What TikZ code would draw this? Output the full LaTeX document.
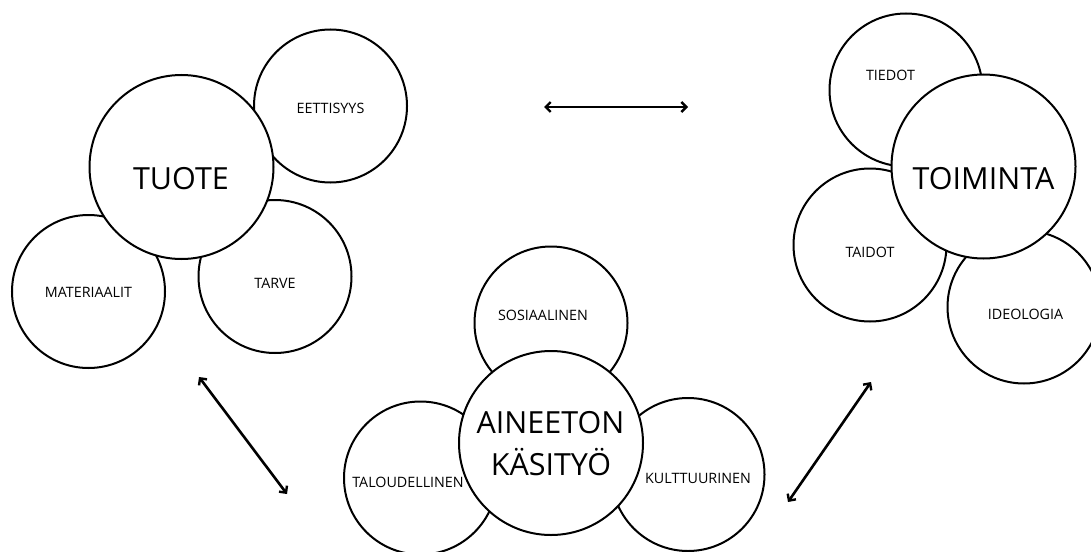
\documentclass[tikz,border=0pt]{standalone}
\usepackage{fontspec}
\setmainfont{Open Sans}
\usetikzlibrary{arrows.meta}
\begin{document}
\begin{tikzpicture}[x=1pt,y=-1pt,
  bubble/.style={circle,draw=black,fill=white,line width=2pt,inner sep=0pt},
  small/.style={bubble,minimum size=153pt},
  big/.style={bubble,minimum size=184pt},
  lbl/.style={anchor=base,inner sep=0pt,font=\fontsize{14.3}{16}\selectfont},
  biglbl/.style={anchor=base,inner sep=0pt,font=\fontsize{30.5}{36}\selectfont},
  link/.style={line width=2.6pt,{Straight Barb[length=5pt,width=10pt,line width=2.4pt]}-{Straight Barb[length=5pt,width=10pt,line width=2.4pt]}}]
\useasboundingbox (0,0) rectangle (1091,551);
% TUOTE group
\node[small] (eett) at (330.5,106) {};
\node[small] (mat) at (88.5,291.5) {};
\node[small] (tarve) at (275,276.5) {};
\node[big] (tuote) at (181.5,167) {};
\node[lbl] (teett) at (330.5,113.3) {EETTISYYS};
\node[lbl] (tmat) at (88.5,297.7) {MATERIAALIT};
\node[lbl] (ttarve) at (275,288.7) {TARVE};
\node[biglbl] (ttuote) at (181,189.3) {TUOTE};
% TOIMINTA group
\node[small] (tied) at (906,90) {};
\node[small] (taid) at (870,245) {};
\node[small] (ideo) at (1024,307) {};
\node[big] (toim) at (983.5,166.5) {};
\node[lbl] (ttied) at (890.5,80) {TIEDOT};
\node[lbl] (ttaid) at (870,257.3) {TAIDOT};
\node[lbl] (tideo) at (1025.5,319.3) {IDEOLOGIA};
\node[biglbl] (ttoim) at (983.5,189.3) {TOIMINTA};
% AINEETON group
\node[small] (sos) at (551,323) {};
\node[small] (tal) at (420.5,478) {};
\node[small] (kult) at (688,474.5) {};
\node[big] (aine) at (551,443) {};
\node[lbl] (tsos) at (543,320) {SOSIAALINEN};
\node[lbl] (ttal) at (408,487.3) {TALOUDELLINEN};
\node[lbl] (tkult) at (698,483.3) {KULTTUURINEN};
\node[biglbl] (taine1) at (550.5,433.3) {AINEETON};
\node[biglbl] (taine2) at (551,475) {KÄSITYÖ};
% arrows
\coordinate (h1) at (544,107);
\coordinate (h2) at (688,107);
\coordinate (l1) at (199,377);
\coordinate (l2) at (287,494);
\coordinate (r1) at (871,382);
\coordinate (r2) at (788,502);
\draw[link] (h1) -- (h2);
\draw[link] (l1) -- (l2);
\draw[link] (r1) -- (r2);
\end{tikzpicture}
\end{document}
